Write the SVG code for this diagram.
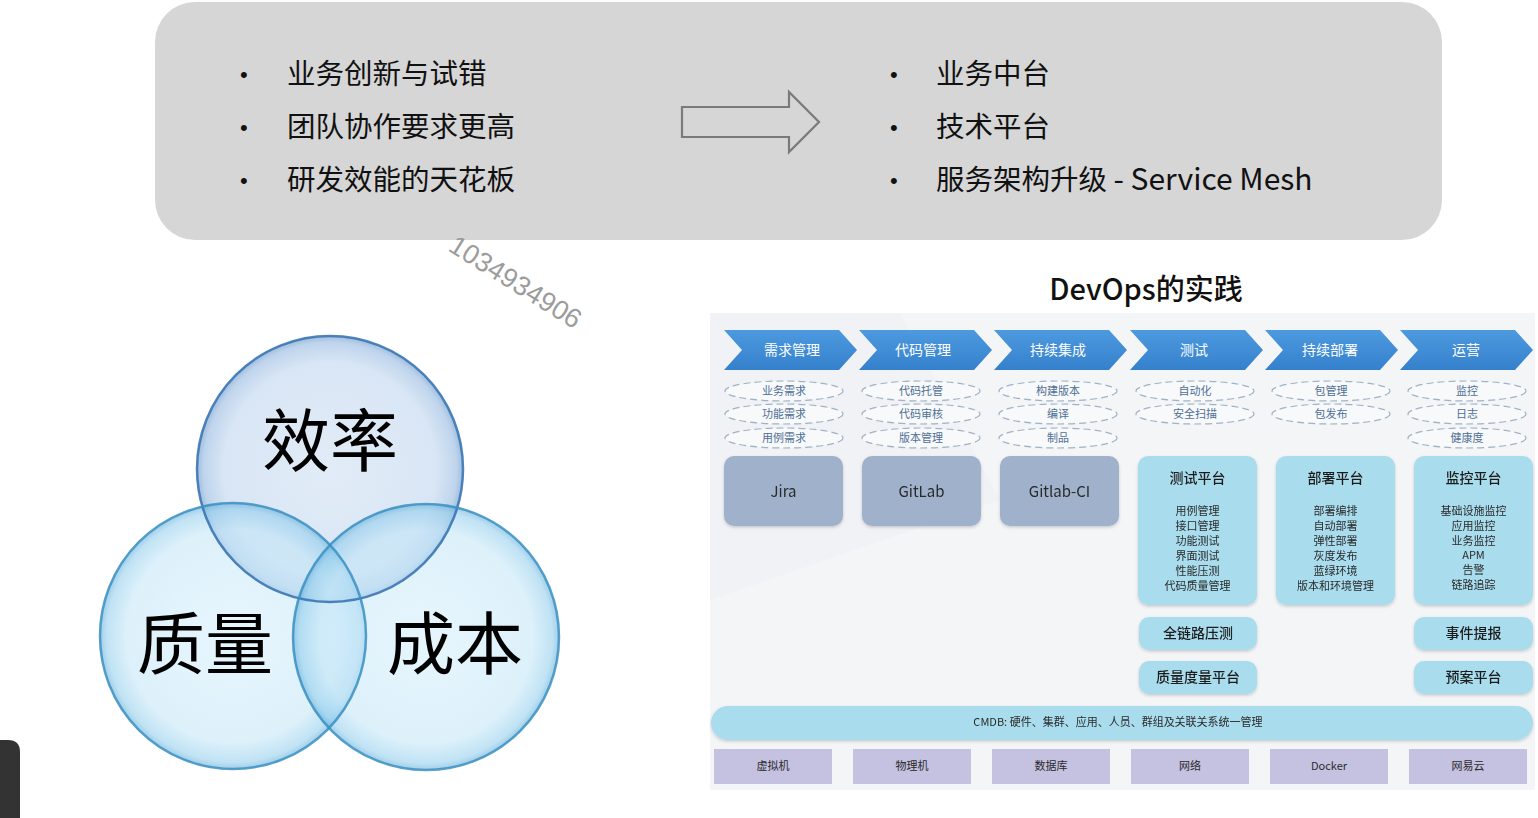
<svg xmlns="http://www.w3.org/2000/svg" width="1538" height="818" viewBox="0 0 1538 818">
<style>
.cjk{font-family:"Noto Sans CJK SC","Liberation Sans",sans-serif}
.top{font-size:28.5px;fill:#111}
.bul{font-size:22px;fill:#111;font-family:"Liberation Sans",sans-serif}
.big{font-size:68px;fill:#000}
.chev{font-size:14px;fill:#fff}
.ell{fill:#f7f9fb;stroke:#9fb2c6;stroke-width:1.2;stroke-dasharray:7 4}
.elt{font-size:11px;fill:#4f6f94}
.gbox{fill:#9fb1cb}
.gt{font-size:15px;fill:#2b2b2b}
.bbox{fill:#a9dced}
.bt{font-size:14px;fill:#1e1e1e;font-weight:500}
.it{font-size:11px;fill:#2a2a2a}
.pbox{fill:#c5c1e1}
.pt{font-size:11px;fill:#2a2a2a}
.circ{stroke-width:2.5;fill:none}
</style>
<defs>
<radialGradient id="gTop" cx="0.5" cy="0.5" r="0.5">
<stop offset="0" stop-color="#cfdff2"/>
<stop offset="0.8" stop-color="#bfd5ee"/>
<stop offset="0.95" stop-color="#94b8e0"/>
<stop offset="1" stop-color="#5e92c8"/>
</radialGradient>
<radialGradient id="gSide" cx="0.5" cy="0.5" r="0.5">
<stop offset="0" stop-color="#d3eefb"/>
<stop offset="0.8" stop-color="#c1e5f7"/>
<stop offset="0.95" stop-color="#8ccbeb"/>
<stop offset="1" stop-color="#4fa6d6"/>
</radialGradient>
<linearGradient id="gChev" x1="0" y1="0" x2="0" y2="1">
<stop offset="0" stop-color="#4d9ae0"/>
<stop offset="1" stop-color="#3580cc"/>
</linearGradient>
<filter id="sh" x="-10%" y="-10%" width="120%" height="130%">
<feDropShadow dx="0" dy="1.5" stdDeviation="1.5" flood-color="#000" flood-opacity="0.18"/>
</filter>
</defs>
<rect width="1538" height="818" fill="#ffffff"/>

<g id="banner">
<rect x="155" y="2" width="1287" height="238" rx="40" fill="#d6d6d6"/>
<text class="bul" x="240" y="82">•</text>
<text class="bul" x="240" y="135">•</text>
<text class="bul" x="240" y="188">•</text>
<text class="cjk top" x="287" y="84">业务创新与试错</text>
<text class="cjk top" x="287" y="137">团队协作要求更高</text>
<text class="cjk top" x="287" y="190">研发效能的天花板</text>
<text class="bul" x="890" y="82">•</text>
<text class="bul" x="890" y="135">•</text>
<text class="bul" x="890" y="188">•</text>
<text class="cjk top" x="936" y="84">业务中台</text>
<text class="cjk top" x="936" y="137">技术平台</text>
<text class="cjk top" x="936" y="190">服务架构升级 <tspan font-size="30">- Service Mesh</tspan></text>
</g>
<g id="connectors">
<polygon points="682,107 789,107 789,92 819,122 789,152 789,137 682,137" fill="none" stroke="#7a7a7a" stroke-width="2.2"/>
</g>

<text x="447" y="250" transform="rotate(32 447 250)" font-family="Liberation Sans, sans-serif" font-size="27" fill="#9c9c9c">1034934906</text>

<g id="venn">
<circle cx="330" cy="469" r="133" fill="url(#gTop)" fill-opacity="0.6"/>
<circle cx="233" cy="636" r="133" fill="url(#gSide)" fill-opacity="0.55"/>
<circle cx="426" cy="637" r="133" fill="url(#gSide)" fill-opacity="0.55"/>
<circle class="circ" cx="330" cy="469" r="133" stroke="#3b76b4" stroke-opacity="0.9"/>
<circle class="circ" cx="233" cy="636" r="133" stroke="#3a8fc2" stroke-opacity="0.85"/>
<circle class="circ" cx="426" cy="637" r="133" stroke="#3a8fc2" stroke-opacity="0.85"/>
<text class="cjk big" x="330" y="466" text-anchor="middle">效率</text>
<text class="cjk big" x="205" y="669" text-anchor="middle">质量</text>
<text class="cjk big" x="455" y="669" text-anchor="middle">成本</text>
</g>

<path d="M0,740 H8 Q20,740 20,752 V818 H0 Z" fill="#333333"/>

<text class="cjk" x="1146" y="300" text-anchor="middle" font-size="29" font-weight="500" fill="#111">DevOps的实践</text>

<g id="devops">
<rect x="710" y="313" width="825" height="477" fill="#f4f5f7"/>
<polygon points="710,313 900,313 1000,500 710,600" fill="#eef0f3" opacity="0.6"/>
<g id="chevrons">
<polygon points="724,330 839,330 857,350 839,370 724,370 742,350" fill="url(#gChev)"/>
<polygon points="859,330 974,330 992,350 974,370 859,370 877,350" fill="url(#gChev)"/>
<polygon points="994,330 1109,330 1127,350 1109,370 994,370 1012,350" fill="url(#gChev)"/>
<polygon points="1130,330 1245,330 1263,350 1245,370 1130,370 1148,350" fill="url(#gChev)"/>
<polygon points="1265,330 1380,330 1398,350 1380,370 1265,370 1283,350" fill="url(#gChev)"/>
<polygon points="1400,330 1515,330 1533,350 1515,370 1400,370 1418,350" fill="url(#gChev)"/>
<text class="cjk chev" x="792" y="355" text-anchor="middle">需求管理</text>
<text class="cjk chev" x="923" y="355" text-anchor="middle">代码管理</text>
<text class="cjk chev" x="1058" y="355" text-anchor="middle">持续集成</text>
<text class="cjk chev" x="1194" y="355" text-anchor="middle">测试</text>
<text class="cjk chev" x="1330" y="355" text-anchor="middle">持续部署</text>
<text class="cjk chev" x="1466" y="355" text-anchor="middle">运营</text>
</g>
<g id="ellipses">
<ellipse class="ell" cx="784" cy="391" rx="59" ry="10"/>
<ellipse class="ell" cx="784" cy="414" rx="59" ry="10"/>
<ellipse class="ell" cx="784" cy="438" rx="59" ry="10"/>
<ellipse class="ell" cx="921" cy="391" rx="59" ry="10"/>
<ellipse class="ell" cx="921" cy="414" rx="59" ry="10"/>
<ellipse class="ell" cx="921" cy="438" rx="59" ry="10"/>
<ellipse class="ell" cx="1058" cy="391" rx="59" ry="10"/>
<ellipse class="ell" cx="1058" cy="414" rx="59" ry="10"/>
<ellipse class="ell" cx="1058" cy="438" rx="59" ry="10"/>
<ellipse class="ell" cx="1195" cy="391" rx="59" ry="10"/>
<ellipse class="ell" cx="1195" cy="414" rx="59" ry="10"/>
<ellipse class="ell" cx="1331" cy="391" rx="59" ry="10"/>
<ellipse class="ell" cx="1331" cy="414" rx="59" ry="10"/>
<ellipse class="ell" cx="1467" cy="391" rx="59" ry="10"/>
<ellipse class="ell" cx="1467" cy="414" rx="59" ry="10"/>
<ellipse class="ell" cx="1467" cy="438" rx="59" ry="10"/>
<text class="cjk elt" x="784" y="395" text-anchor="middle">业务需求</text>
<text class="cjk elt" x="784" y="418" text-anchor="middle">功能需求</text>
<text class="cjk elt" x="784" y="442" text-anchor="middle">用例需求</text>
<text class="cjk elt" x="921" y="395" text-anchor="middle">代码托管</text>
<text class="cjk elt" x="921" y="418" text-anchor="middle">代码审核</text>
<text class="cjk elt" x="921" y="442" text-anchor="middle">版本管理</text>
<text class="cjk elt" x="1058" y="395" text-anchor="middle">构建版本</text>
<text class="cjk elt" x="1058" y="418" text-anchor="middle">编译</text>
<text class="cjk elt" x="1058" y="442" text-anchor="middle">制品</text>
<text class="cjk elt" x="1195" y="395" text-anchor="middle">自动化</text>
<text class="cjk elt" x="1195" y="418" text-anchor="middle">安全扫描</text>
<text class="cjk elt" x="1331" y="395" text-anchor="middle">包管理</text>
<text class="cjk elt" x="1331" y="418" text-anchor="middle">包发布</text>
<text class="cjk elt" x="1467" y="395" text-anchor="middle">监控</text>
<text class="cjk elt" x="1467" y="418" text-anchor="middle">日志</text>
<text class="cjk elt" x="1467" y="442" text-anchor="middle">健康度</text>
</g>
<g id="jira" filter="url(#sh)">
<rect class="gbox" x="724" y="456" width="119" height="70" rx="10"/>
<text class="cjk gt" x="783.5" y="497" text-anchor="middle">Jira</text>
</g>
<g id="gitlab" filter="url(#sh)">
<rect class="gbox" x="862" y="456" width="119" height="70" rx="10"/>
<text class="cjk gt" x="921.5" y="497" text-anchor="middle">GitLab</text>
</g>
<g id="gitlabci" filter="url(#sh)">
<rect class="gbox" x="1000" y="456" width="119" height="70" rx="10"/>
<text class="cjk gt" x="1059.5" y="497" text-anchor="middle">Gitlab-CI</text>
</g>
<g id="test-platform" filter="url(#sh)">
<rect class="bbox" x="1138" y="456" width="119" height="149" rx="10"/>
<text class="cjk bt" x="1197.5" y="483" text-anchor="middle">测试平台</text>
<text class="cjk it" x="1197.5" y="515" text-anchor="middle">用例管理</text>
<text class="cjk it" x="1197.5" y="530" text-anchor="middle">接口管理</text>
<text class="cjk it" x="1197.5" y="545" text-anchor="middle">功能测试</text>
<text class="cjk it" x="1197.5" y="560" text-anchor="middle">界面测试</text>
<text class="cjk it" x="1197.5" y="575" text-anchor="middle">性能压测</text>
<text class="cjk it" x="1197.5" y="590" text-anchor="middle">代码质量管理</text>
</g>
<g id="deploy-platform" filter="url(#sh)">
<rect class="bbox" x="1276" y="456" width="119" height="149" rx="10"/>
<text class="cjk bt" x="1335.5" y="483" text-anchor="middle">部署平台</text>
<text class="cjk it" x="1335.5" y="515" text-anchor="middle">部署编排</text>
<text class="cjk it" x="1335.5" y="530" text-anchor="middle">自动部署</text>
<text class="cjk it" x="1335.5" y="545" text-anchor="middle">弹性部署</text>
<text class="cjk it" x="1335.5" y="560" text-anchor="middle">灰度发布</text>
<text class="cjk it" x="1335.5" y="575" text-anchor="middle">蓝绿环境</text>
<text class="cjk it" x="1335.5" y="590" text-anchor="middle">版本和环境管理</text>
</g>
<g id="monitor-platform" filter="url(#sh)">
<rect class="bbox" x="1414" y="456" width="119" height="149" rx="10"/>
<text class="cjk bt" x="1473.5" y="483" text-anchor="middle">监控平台</text>
<text class="cjk it" x="1473.5" y="515" text-anchor="middle">基础设施监控</text>
<text class="cjk it" x="1473.5" y="530" text-anchor="middle">应用监控</text>
<text class="cjk it" x="1473.5" y="545" text-anchor="middle">业务监控</text>
<text class="cjk it" x="1473.5" y="559" text-anchor="middle" font-size="10">APM</text>
<text class="cjk it" x="1473.5" y="574" text-anchor="middle">告警</text>
<text class="cjk it" x="1473.5" y="589" text-anchor="middle">链路追踪</text>
</g>
<g id="fulllink" filter="url(#sh)">
<rect class="bbox" x="1139" y="617" width="118" height="33" rx="10"/>
<text class="cjk bt" x="1198" y="638" text-anchor="middle">全链路压测</text>
</g>
<g id="quality" filter="url(#sh)">
<rect class="bbox" x="1139" y="661" width="118" height="33" rx="10"/>
<text class="cjk bt" x="1198" y="682" text-anchor="middle">质量度量平台</text>
</g>
<g id="event" filter="url(#sh)">
<rect class="bbox" x="1414" y="617" width="119" height="33" rx="10"/>
<text class="cjk bt" x="1473.5" y="638" text-anchor="middle">事件提报</text>
</g>
<g id="plan" filter="url(#sh)">
<rect class="bbox" x="1414" y="661" width="119" height="33" rx="10"/>
<text class="cjk bt" x="1473.5" y="682" text-anchor="middle">预案平台</text>
</g>
<g id="cmdb" filter="url(#sh)">
<rect class="bbox" x="711" y="706" width="822" height="34" rx="17"/>
<text class="cjk it" x="1118" y="726" text-anchor="middle">CMDB: 硬件、集群、应用、人员、群组及关联关系统一管理</text>
</g>
<g id="infra">
<rect class="pbox" x="714" y="749" width="118" height="35"/>
<rect class="pbox" x="853" y="749" width="118" height="35"/>
<rect class="pbox" x="992" y="749" width="118" height="35"/>
<rect class="pbox" x="1131" y="749" width="118" height="35"/>
<rect class="pbox" x="1270" y="749" width="118" height="35"/>
<rect class="pbox" x="1409" y="749" width="118" height="35"/>
<text class="cjk pt" x="773" y="770" text-anchor="middle">虚拟机</text>
<text class="cjk pt" x="912" y="770" text-anchor="middle">物理机</text>
<text class="cjk pt" x="1051" y="770" text-anchor="middle">数据库</text>
<text class="cjk pt" x="1190" y="770" text-anchor="middle">网络</text>
<text class="cjk pt" x="1329" y="770" text-anchor="middle">Docker</text>
<text class="cjk pt" x="1468" y="770" text-anchor="middle">网易云</text>
</g>
</g>
</svg>
